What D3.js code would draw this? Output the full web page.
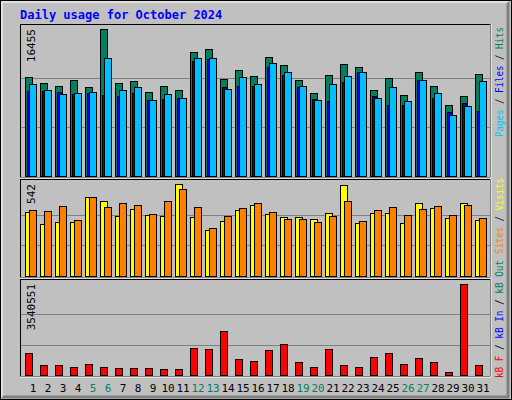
<!DOCTYPE html>
<html><head><meta charset="utf-8">
<script src="https://cdn.jsdelivr.net/npm/d3@7"></script>
<style>body{margin:0;background:#fff}svg{display:block}</style>
</head><body>
<svg id="chart" width="512" height="400"></svg>
<script>
const days = d3.range(1, 32);
const weekends = [5, 6, 12, 13, 19, 20, 26, 27];
const hits = [11080,10410,10070,10745,9960,16455,10410,10630,9400,10070,9625,13880,14215,10855,11865,11190,13320,12425,10745,9290,11305,12535,12200,9625,10970,9065,11640,10070,7945,8955,11415];
const files = [9515,9515,9400,9180,9290,9065,8955,9290,8505,8620,8730,12870,13095,9960,10070,10070,12200,11305,9960,8620,8395,10520,11640,8955,7945,7945,10745,8730,7165,8170,7275];
const pages = [10300,9625,9180,9290,9400,13205,9625,9960,8505,9180,8730,13205,13205,9735,11080,10300,12650,11640,10070,8505,10300,11190,11640,8730,9960,8395,10745,9290,6830,7835,10630];
const visits = [375,305,316,316,464,440,352,393,358,352,542,346,269,322,387,416,363,346,346,334,369,534,310,369,369,310,428,399,340,428,328];
const sites = [387,381,411,328,464,405,428,416,363,440,511,405,281,352,399,428,375,334,334,316,352,440,322,387,405,358,393,411,358,416,340];
const kbytes = [864000,400000,400000,323000,439000,323000,284000,284000,284000,245000,245000,1058000,1020000,1717000,632000,555000,981000,1213000,516000,323000,1020000,400000,323000,710000,864000,439000,671000,516000,129000,3540551,400000];

const svg = d3.select('#chart');
const font = 'DejaVu Sans Mono, monospace';

// frame
svg.append('rect').attr('x', 0.5).attr('y', 0.5).attr('width', 511).attr('height', 399).attr('fill', '#c0c0c0').attr('stroke', '#000');
svg.append('path').attr('d', 'M508,2V397H2').attr('fill', 'none').attr('stroke', '#808080').attr('stroke-width', 3);
svg.append('path').attr('d', 'M2,397V2H508').attr('fill', 'none').attr('stroke', '#fff').attr('stroke-width', 1);

svg.append('text').attr('x', 20).attr('y', 19).text('Daily usage for October 2024')
  .attr('font-family', font).attr('font-size', 12).attr('font-weight', 'bold').attr('fill', '#0000ff');

const x = d3.scaleBand().domain(days).range([20, 485]).paddingInner(0);

function panel(top, bottom, max, label, series) {
  svg.append('rect').attr('x', 20.5).attr('y', top - 0.5).attr('width', 470).attr('height', bottom - top + 2)
    .attr('fill', '#c0c0c0').attr('stroke', '#000');
  svg.append('path').attr('d', `M491,${top - 1}V${bottom + 2}H20`).attr('fill', 'none').attr('stroke', '#fff');
  const y = d3.scaleLinear().domain([0, max]).range([bottom, top + 4]);
  [max / 3, max * 2 / 3].forEach(v => {
    svg.append('line').attr('x1', 21).attr('x2', 490).attr('y1', Math.round(y(v)) + 0.5).attr('y2', Math.round(y(v)) + 0.5)
      .attr('stroke', '#808080');
  });
  series.forEach(s => {
    svg.append('g').selectAll('rect').data(s.data).enter().append('rect')
      .attr('x', (d, i) => x(days[i]) + s.dx + 0.5)
      .attr('y', d => Math.round(y(d)) + 0.5)
      .attr('width', s.w)
      .attr('height', d => bottom - Math.round(y(d)))
      .attr('fill', s.color).attr('stroke', '#000');
  });
  svg.append('text').attr('transform', `translate(35,${top + 4}) rotate(-90)`).attr('text-anchor', 'end')
    .text(label).attr('font-family', font).attr('font-size', 11).attr('fill', '#000');
}

function legend(yStart, len, parts) {
  const t = svg.append('text').attr('transform', `translate(503,${yStart}) rotate(-90)`)
    .attr('font-family', font).attr('font-size', 10)
    .attr('textLength', len).attr('lengthAdjust', 'spacingAndGlyphs');
  parts.forEach((l, i) => {
    if (i > 0) t.append('tspan').text(' / ').attr('fill', '#000');
    t.append('tspan').text(l[0]).attr('fill', l[1]);
  });
}

panel(25, 176, 16455, '16455', [
  { data: hits, dx: 5, w: 7, color: '#008060' },
  { data: files, dx: 7, w: 4, color: '#0000ff' },
  { data: pages, dx: 9, w: 7, color: '#00c0ff' }
]);

panel(180, 276, 542, '542', [
  { data: visits, dx: 5, w: 7, color: '#ffff00' },
  { data: sites, dx: 9, w: 7, color: '#ff8000' }
]);

panel(280, 375, 3540551, '3540551', [
  { data: kbytes, dx: 5, w: 7, color: '#ff0000' }
]);

legend(137, 110, [['Pages', '#00c0ff'], ['Files', '#0000ff'], ['Hits', '#008060']]);
legend(254, 76, [['Sites', '#ff8000'], ['Visits', '#ffff00']]);
legend(378, 118, [['kB F', '#ff0000'], ['kB In', '#0000ff'], ['kB Out', '#008060']]);

svg.append('g').selectAll('text').data(days).enter().append('text')
  .attr('x', d => x(d) + 13).attr('y', 392).attr('text-anchor', 'middle')
  .attr('font-family', font).attr('font-size', 11)
  .attr('fill', d => weekends.includes(d) ? '#008060' : '#000')
  .text(d => d);
</script>
</body></html>
